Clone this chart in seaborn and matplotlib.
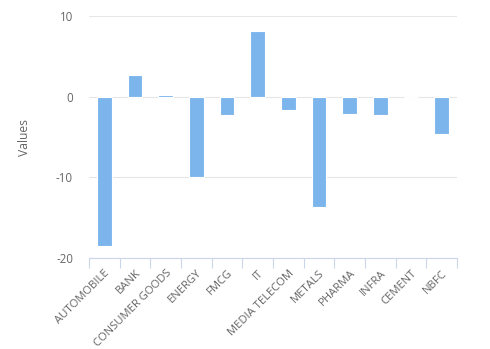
import matplotlib
matplotlib.use("Agg")
import matplotlib.pyplot as plt
import seaborn as sns
import pandas as pd
import numpy as np

categories = ["AUTOMOBILE", "BANK", "CONSUMER GOODS", "ENERGY", "FMCG", "IT",
              "MEDIA TELECOM", "METALS", "PHARMA", "INFRA", "CEMENT", "NBFC"]
values = [-18.5, 2.7, 0.25, -10.0, -2.3, 8.15, -1.6, -13.7, -2.2, -2.3, 0.0, -4.65]
y_ticks = [-20, -10, 0, 10]
y_label = "Values"

sns.set_theme(style="white")
plt.rcParams['font.family'] = ['Open Sans', 'DejaVu Sans']

fig = plt.figure(figsize=(4.9, 3.49), dpi=100)
ax = fig.add_axes([89/490, 1-258/349, (457-89)/490, (258-16)/349])

df = pd.DataFrame({"cat": categories, "val": values})
df["pos"] = np.arange(len(df))
sns.barplot(data=df, x="pos", y="val", ax=ax, color="#7cb5ec", saturation=1,
            native_scale=True, orient="v",
            width=0.47, edgecolor="white", linewidth=0.8, zorder=3)

for s in ["top", "right", "left"]:
    ax.spines[s].set_visible(False)
ax.spines["bottom"].set_color("#ccd6eb")
ax.spines["bottom"].set_linewidth(0.8)

ax.set_ylim(-20, 10)
ax.set_xlim(-0.5, len(categories) - 0.5)
ax.tick_params(axis="y", length=0, pad=11.5, labelcolor="#666666", labelsize=8.3)
ax.set_yticks(y_ticks, labels=[str(t) for t in y_ticks])
ax.yaxis.grid(True, color="#e6e6e6", linewidth=0.8, zorder=0)
ax.set_axisbelow(True)

ax.tick_params(axis="x", which="major", length=0, pad=7, labelcolor="#666666",
               labelsize=8.1)
ax.tick_params(axis="x", which="minor", length=7, color="#ccd6eb", width=0.8,
               direction="out", bottom=True)
ax.set_xticks(np.arange(-0.5, len(categories)), minor=True)
ax.set_xticks(df["pos"], labels=df["cat"], rotation=45, ha="right",
              rotation_mode="anchor")

ax.set_xlabel("")
ax.set_ylabel(y_label, color="#666666", fontsize=8.7, labelpad=18)

fig.savefig("out.png", dpi=100, facecolor="white")
